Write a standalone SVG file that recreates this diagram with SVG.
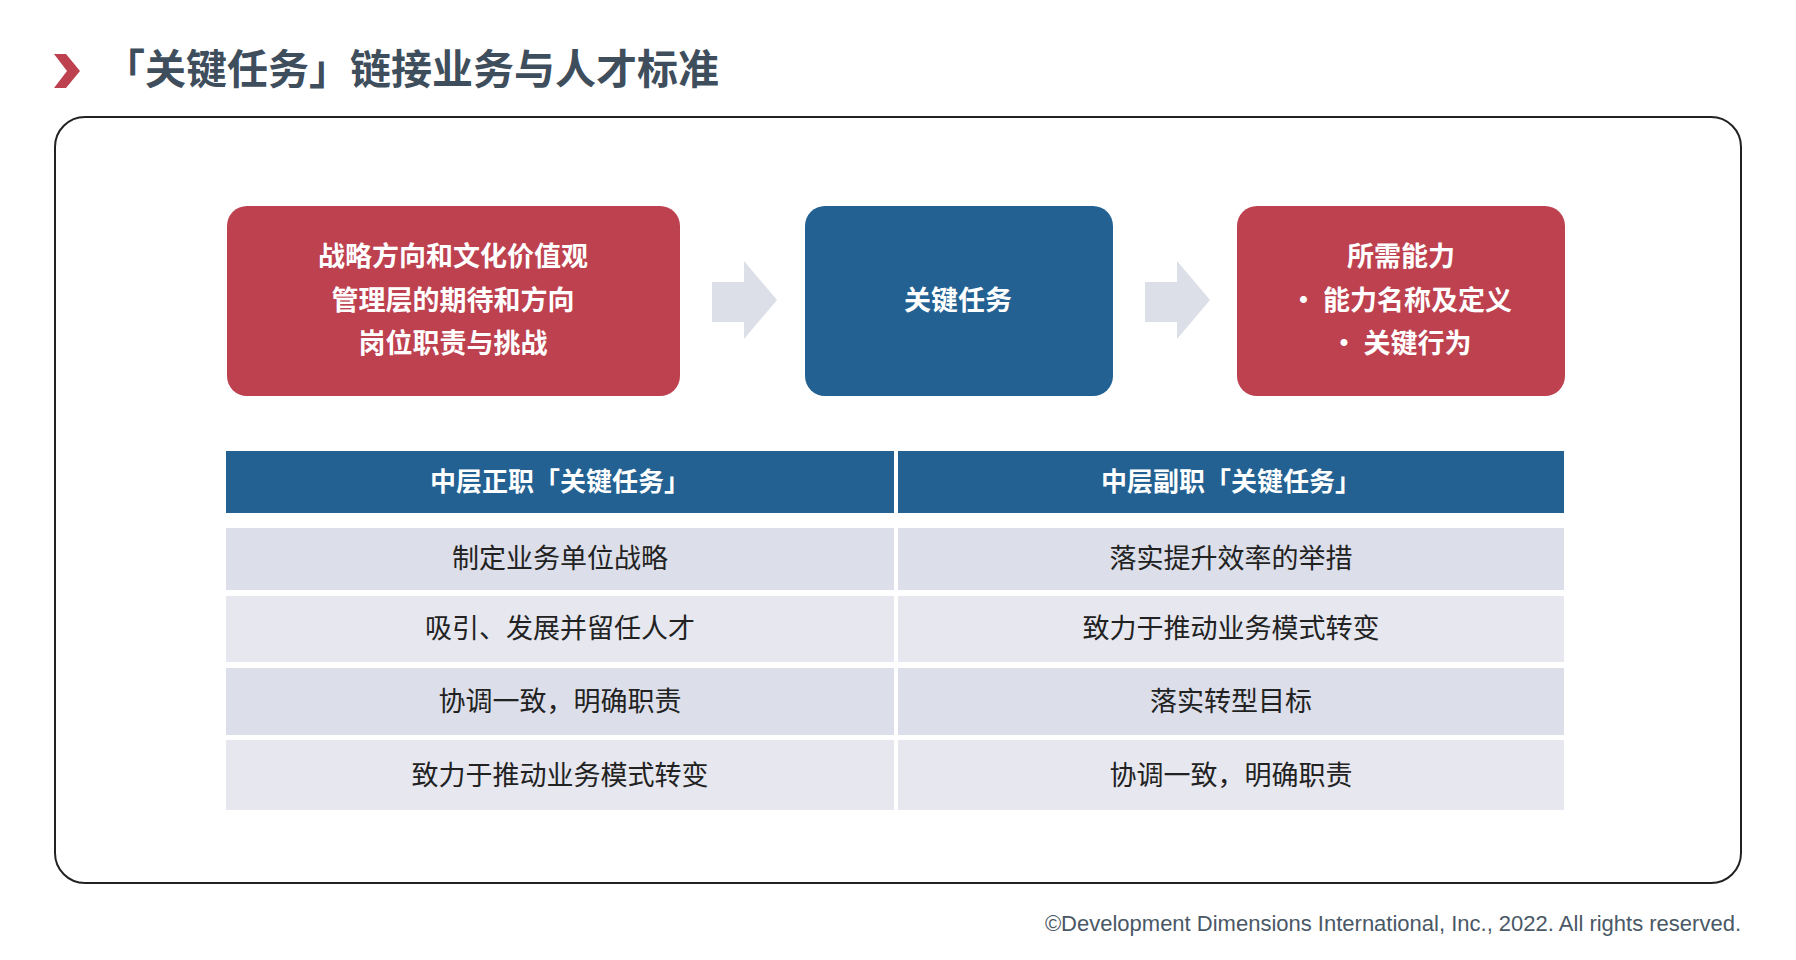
<svg xmlns="http://www.w3.org/2000/svg" width="1796" height="960" viewBox="0 0 1796 960">
<style>
text{font-family:"Noto Sans CJK SC","Liberation Sans",sans-serif;text-anchor:middle}
.w{fill:#fff;font-weight:bold;font-size:27px}
.h{fill:#fff;font-weight:bold;font-size:26px}
.c{fill:#222;font-size:27px}
.red{fill:#be4150}
.blue{fill:#236192}
.arr{fill:#dcdee8}
.ra{fill:#dcdee9}
.rb{fill:#e6e7ef}
</style>
<rect width="1796" height="960" fill="#fff"/>
<polygon points="54,54 66,54 80,71 66,88 54,88 67,71" fill="#be4150"/>
<text x="104" y="84" style="text-anchor:start;font-size:41px;font-weight:bold;fill:#3f4e5c">「关键任务」链接业务与人才标准</text>
<rect x="55" y="117" width="1686" height="766" rx="30" fill="none" stroke="#222" stroke-width="2"/>
<g id="connectors">
<polygon class="arr" points="712,282 744,282 744,261 777,300 744,339 744,322 712,322"/>
<polygon class="arr" points="1145,282 1177,282 1177,261 1210,300 1177,339 1177,322 1145,322"/>
</g>
<g id="n1"><rect class="red" x="227" y="206" width="453" height="190" rx="20"/>
<text class="w" x="453" y="266">战略方向和文化价值观</text><text class="w" x="453" y="310">管理层的期待和方向</text><text class="w" x="453" y="353">岗位职责与挑战</text></g>
<g id="n2"><rect class="blue" x="805" y="206" width="308" height="190" rx="20"/><text class="w" x="958" y="310">关键任务</text></g>
<g id="n3"><rect class="red" x="1237" y="206" width="328" height="190" rx="20"/>
<text class="w" x="1401" y="266">所需能力</text><text class="w" x="1401" y="310">· 能力名称及定义</text><text class="w" x="1401" y="353">· 关键行为</text></g>
<g id="table">
<rect class="blue" x="226" y="451" width="668" height="62"/><rect class="blue" x="898" y="451" width="666" height="62"/>
<text class="h" x="560" y="491">中层正职「关键任务」</text><text class="h" x="1231" y="491">中层副职「关键任务」</text>
<rect class="ra" x="226" y="528" width="668" height="62"/><rect class="ra" x="898" y="528" width="666" height="62"/>
<rect class="rb" x="226" y="596" width="668" height="66"/><rect class="rb" x="898" y="596" width="666" height="66"/>
<rect class="ra" x="226" y="668" width="668" height="67"/><rect class="ra" x="898" y="668" width="666" height="67"/>
<rect class="rb" x="226" y="740" width="668" height="70"/><rect class="rb" x="898" y="740" width="666" height="70"/>
<text class="c" x="560" y="568">制定业务单位战略</text><text class="c" x="1231" y="568">落实提升效率的举措</text>
<text class="c" x="560" y="638">吸引、发展并留任人才</text><text class="c" x="1231" y="638">致力于推动业务模式转变</text>
<text class="c" x="560" y="711">协调一致，明确职责</text><text class="c" x="1231" y="711">落实转型目标</text>
<text class="c" x="560" y="785">致力于推动业务模式转变</text><text class="c" x="1231" y="785">协调一致，明确职责</text>
</g>
<text x="1741" y="931" style="text-anchor:end;font-family:'Liberation Sans',sans-serif;font-size:22px;fill:#4a5866">©Development Dimensions International, Inc., 2022. All rights reserved.</text>
</svg>
